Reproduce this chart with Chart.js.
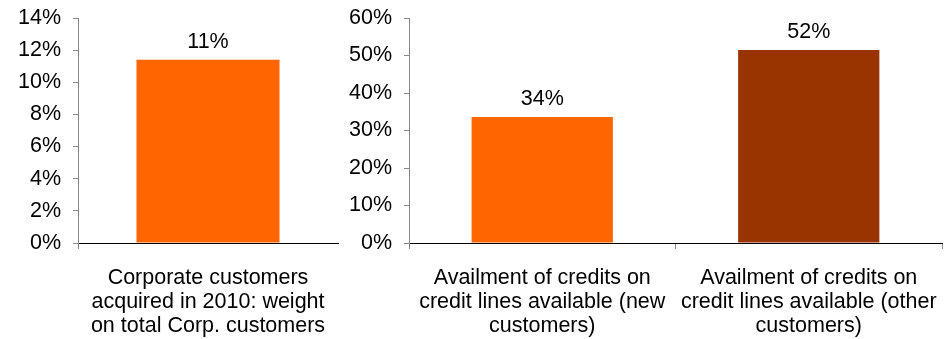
<!DOCTYPE html>
<html lang="en">
<head>
  <meta charset="UTF-8">
  <title>Corporate customers and credit lines</title>
  <script src="https://cdn.jsdelivr.net/npm/chart.js"></script>
  <style>
    body {
      margin: 0;
      background: #fff;
      width: 944px;
      height: 339px;
      position: relative;
      overflow: hidden;
    }
    .box {
      position: absolute;
      top: 0;
      height: 339px;
    }
    #leftBox { left: 0; width: 340px; }
    #rightBox { left: 335px; width: 609px; }
  </style>
</head>
<body>
  <div class="box" id="leftBox"><canvas id="leftChart"></canvas></div>
  <div class="box" id="rightBox"><canvas id="rightChart"></canvas></div>
  <script>
    // Left panel: share of new corporate customers
    const leftLabels = [
      ['Corporate customers', 'acquired in 2010: weight', 'on total Corp. customers']
    ];
    const leftValues = [11.4];
    const leftColors = ['#FF6600'];

    // Right panel: use of available credit lines
    const rightLabels = [
      ['Availment of credits on', 'credit lines available (new', 'customers)'],
      ['Availment of credits on', 'credit lines available (other', 'customers)']
    ];
    const rightValues = [33.6, 51.5];
    const rightColors = ['#FF6600', '#993300'];

    const FONT = 'Liberation Sans, Arial, sans-serif';
    const FSIZE = 21.5;
    const GREY = '#868686';

    // Percent labels above each bar
    const barValues = {
      id: 'barValues',
      afterDatasetsDraw(chart) {
        const ctx = chart.ctx;
        const meta = chart.getDatasetMeta(0);
        ctx.save();
        ctx.font = FSIZE + 'px ' + FONT;
        ctx.fillStyle = '#000';
        ctx.textAlign = 'center';
        ctx.textBaseline = 'alphabetic';
        meta.data.forEach((bar, i) => {
          const v = chart.data.datasets[0].data[i];
          ctx.fillText(Math.round(v) + '%', bar.x, bar.y - 12);
        });
        ctx.restore();
      }
    };

    function makeChart(id, labels, values, colors, opts) {
      return new Chart(document.getElementById(id), {
        type: 'bar',
        data: {
          labels: labels,
          datasets: [{
            data: values,
            backgroundColor: colors,
            categoryPercentage: 1,
            barPercentage: opts.barPct
          }]
        },
        options: {
          responsive: true,
          maintainAspectRatio: false,
          animation: false,
          layout: { padding: { top: 18, right: opts.padRight, left: 0, bottom: 0 } },
          plugins: { legend: { display: false }, tooltip: { enabled: false } },
          scales: {
            x: {
              offset: true,
              border: { display: true, color: '#000', width: 1 },
              grid: {
                offset: true,
                drawOnChartArea: false,
                drawTicks: true,
                tickLength: 6,
                color: ctx => (opts.endTick || ctx.index === 0) ? GREY : 'rgba(0,0,0,0)'
              },
              ticks: {
                maxRotation: 0,
                autoSkip: false,
                padding: 17,
                color: '#000',
                font: { family: FONT, size: FSIZE, lineHeight: 1.11 }
              },
              afterFit: s => { s.height = 96; s.paddingLeft = 0; s.paddingRight = 0; }
            },
            y: {
              min: 0,
              max: opts.max,
              border: { display: true, color: GREY, width: 1 },
              grid: { drawOnChartArea: false, tickLength: 5, color: GREY },
              ticks: {
                stepSize: opts.step,
                padding: 12,
                color: '#000',
                font: { family: FONT, size: FSIZE },
                callback: v => v + '%'
              },
              afterFit: s => { s.width = opts.yWidth; s.paddingTop = 0; s.paddingBottom = 0; }
            }
          }
        },
        plugins: [barValues]
      });
    }

    makeChart('leftChart', leftLabels, leftValues, leftColors,
      { max: 14, step: 2, barPct: 0.55, yWidth: 78, padRight: 2, endTick: false });
    makeChart('rightChart', rightLabels, rightValues, rightColors,
      { max: 60, step: 10, barPct: 0.53, yWidth: 74, padRight: 2, endTick: true });
  </script>
</body>
</html>
